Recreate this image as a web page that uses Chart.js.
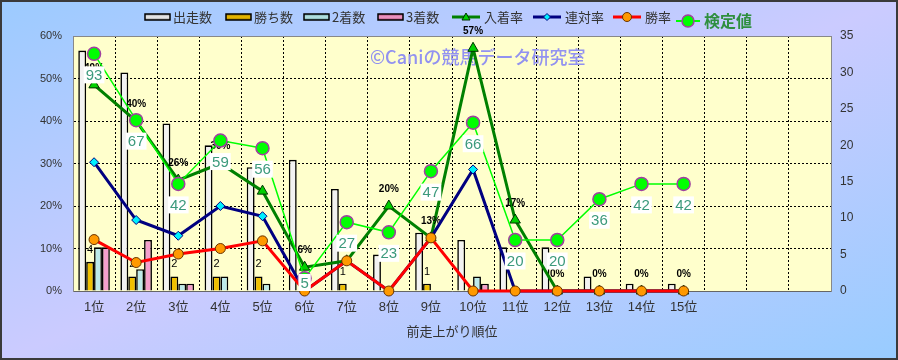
<!DOCTYPE html>
<html><head><meta charset="utf-8">
<script src="https://cdn.jsdelivr.net/npm/chart.js@4.4.1/dist/chart.umd.min.js"></script>
<style>html,body{margin:0;padding:0;background:#fff}#wrap{width:898px;height:360px}</style>
</head><body><div id="wrap"><canvas id="c" width="898" height="360"></canvas></div>
<script>
// ---- data ----
const categories = ['1位','2位','3位','4位','5位','6位','7位','8位','9位','10位','11位','12位','13位','14位','15位','','',''];
const starts   = [33, 30, 23, 20, 17, 18, 14, 5, 8, 7, 6, 6, 2, 1, 1];
const wins     = [4, 2, 2, 2, 2, 0, 1, 0, 1, 0, 0, 0, 0, 0, 0];
const seconds  = [6, 3, 1, 2, 1, 0, 0, 0, 0, 2, 0, 0, 0, 0, 0];
const thirds   = [6, 7, 1, 0, 0, 0, 0, 0, 0, 1, 0, 0, 0, 0, 0];
const placeRate    = [48.5, 40, 26.1, 30, 23.5, 5.6, 7.1, 20, 12.5, 57.1, 16.7, 0, 0, 0, 0];
const quinellaRate = [30.3, 16.7, 13.0, 20, 17.6, 0, 7.1, 0, 12.5, 28.6, 0, 0, 0, 0, 0];
const winRate      = [12.1, 6.7, 8.7, 10, 11.8, 0, 7.1, 0, 12.5, 0, 0, 0, 0, 0, 0];
const testValue    = [93, 67, 42, 59, 56, 5, 27, 23, 47, 66, 20, 20, 36, 42, 42];
const leftTickMax = 60, leftTickStep = 10;
const rightTickMax = 35, rightTickStep = 5;
const watermark = '©Caniの競馬データ研究室';
const xTitle = '前走上がり順位';

const FONT = "'Liberation Sans','Noto Sans CJK JP',sans-serif";
const JFONT = "'Noto Sans CJK JP','Liberation Sans',sans-serif";

const bgPlugin = {
  id: 'bg',
  beforeDraw(chart) {
    const {ctx, width, height, chartArea: a} = chart;
    ctx.save();
    ctx.scale(width, height);
    const g = ctx.createLinearGradient(0, 0, 1, 1);
    g.addColorStop(0, '#9ccbff');
    g.addColorStop(0.5, '#cbcbff');
    g.addColorStop(1, '#98ccff');
    ctx.fillStyle = g;
    ctx.fillRect(0, 0, 1, 1);
    ctx.restore();
    ctx.save();
    ctx.fillStyle = '#ffffcc';
    ctx.fillRect(a.left, a.top, a.right - a.left, a.bottom - a.top);
    ctx.restore();
  },
  beforeDatasetsDraw(chart) {
    const {ctx, chartArea: a} = chart;
    ctx.save();
    ctx.strokeStyle = '#888';
    ctx.lineWidth = 1;
    ctx.beginPath(); ctx.moveTo(a.left, a.top + 0.5); ctx.lineTo(a.right, a.top + 0.5); ctx.stroke();
    ctx.font = '500 18px ' + JFONT;
    ctx.fillStyle = '#9292f0';
    ctx.textBaseline = 'middle';
    ctx.textAlign = 'left';
    ctx.fillText(watermark, 370, 57);
    ctx.restore();
  },
  afterDatasetDraw(chart, args) {
    const {ctx, chartArea: a} = chart;
    const ds = chart.data.datasets[args.index];
    const pts = args.meta.data;
    ctx.save();
    if (ds.label === '入着率') {
      ctx.font = 'bold 10px ' + FONT;
      ctx.fillStyle = '#000';
      ctx.textAlign = 'center'; ctx.textBaseline = 'middle';
      pts.forEach((p, i) => ctx.fillText(Math.round(ds.data[i]) + '%', p.x, p.y - 17));
    } else if (ds.label === '勝ち数') {
      ctx.font = '11px ' + FONT;
      ctx.fillStyle = '#000';
      ctx.textAlign = 'center'; ctx.textBaseline = 'middle';
      pts.forEach((p, i) => { if (ds.data[i] > 0) ctx.fillText(String(ds.data[i]), p.x, p.y - 12); });
    } else if (ds.label === '検定値') {
      ctx.font = '15px ' + FONT;
      ctx.textAlign = 'center'; ctx.textBaseline = 'middle';
      pts.forEach((p, i) => {
        const t = String(ds.data[i]);
        const w = ctx.measureText(t).width + 4, h = 17;
        let cy = Math.min(p.y + 21, a.bottom - h / 2);
        ctx.fillStyle = '#ffffff';
        ctx.fillRect(p.x - w / 2, cy - h / 2, w, h);
        ctx.fillStyle = '#3c9a7c';
        ctx.fillText(t, p.x, cy + 1);
      });
    }
    ctx.restore();
  },
  afterDraw(chart) {
    const {ctx, width, height} = chart;
    const ds = chart.data.datasets;
    ctx.save();
    ctx.textBaseline = 'middle'; ctx.textAlign = 'left';
    const barX = [145, 226, 304, 378];
    for (let i = 0; i < 4; i++) {
      const d = ds[i], x = barX[i], y = 17;
      const g = ctx.createLinearGradient(0, y - 3, 0, y + 3);
      g.addColorStop(0, d.legendEdge); g.addColorStop(0.5, d.backgroundColor); g.addColorStop(1, d.legendEdge);
      ctx.fillStyle = g;
      ctx.fillRect(x, y - 3, 25, 6);
      ctx.strokeStyle = '#000'; ctx.lineWidth = 1.5;
      ctx.strokeRect(x, y - 3, 25, 6);
      ctx.fillStyle = '#333';
      ctx.font = '13px ' + JFONT;
      ctx.fillText(d.label, x + 28, y);
    }
    const lineX = [452, 533, 613, 676];
    for (let i = 4; i < 8; i++) {
      const d = ds[i], x = lineX[i - 4];
      const last = i === 7;
      const y = last ? 21 : 17, len = last ? 24 : 28;
      ctx.strokeStyle = d.borderColor; ctx.lineWidth = last ? 2 : 3;
      ctx.beginPath(); ctx.moveTo(x, y); ctx.lineTo(x + len, y); ctx.stroke();
      const cx = x + len / 2;
      ctx.fillStyle = d.pointBackgroundColor; ctx.strokeStyle = d.pointBorderColor; ctx.lineWidth = 1;
      ctx.beginPath();
      if (d.pointStyle === 'triangle') { ctx.moveTo(cx, y - 4); ctx.lineTo(cx + 4, y + 3); ctx.lineTo(cx - 4, y + 3); ctx.closePath(); }
      else if (d.pointStyle === 'rectRot') { ctx.moveTo(cx, y - 3.5); ctx.lineTo(cx + 3.5, y); ctx.lineTo(cx, y + 3.5); ctx.lineTo(cx - 3.5, y); ctx.closePath(); }
      else { ctx.arc(cx, y, last ? 6 : 4.5, 0, Math.PI * 2); }
      ctx.fill(); ctx.lineWidth = last ? 1.5 : 1; ctx.stroke();
      if (last) { ctx.font = 'bold 16px ' + JFONT; ctx.fillStyle = '#2f8f3f'; }
      else { ctx.font = '13px ' + JFONT; ctx.fillStyle = '#333'; }
      ctx.fillText(d.label, x + len + 4, y);
    }
    ctx.strokeStyle = '#3a3a3a'; ctx.lineWidth = 2;
    ctx.strokeRect(1, 1, width - 2, height - 2);
    ctx.restore();
  }
};

const barDs = (label, data, color, edge, order) => ({
  type: 'bar', label, data, backgroundColor: color, legendEdge: edge,
  borderColor: '#000', borderWidth: 1.6, yAxisID: 'y1', order,
  barPercentage: 1, categoryPercentage: 0.75
});

new Chart(document.getElementById('c'), {
  data: {
    labels: categories,
    datasets: [
      barDs('出走数', starts, '#f2f2f2', '#9a9a9a', 5),
      barDs('勝ち数', wins, '#f0c000', '#a07800', 6),
      barDs('2着数', seconds, '#bdeaea', '#6fa0a0', 7),
      barDs('3着数', thirds, '#f4a0cc', '#b0507a', 8),
      { type: 'line', label: '入着率', data: placeRate, yAxisID: 'y', order: 4, clip: false,
        borderColor: '#008000', borderWidth: 3, pointStyle: 'triangle', pointRadius: 6,
        pointBackgroundColor: '#00d000', pointBorderColor: '#003300', pointBorderWidth: 1 },
      { type: 'line', label: '連対率', data: quinellaRate, yAxisID: 'y', order: 3, clip: false,
        borderColor: '#000080', borderWidth: 3, pointStyle: 'rectRot', pointRadius: 4.5,
        pointBackgroundColor: '#00f0ff', pointBorderColor: '#000080', pointBorderWidth: 1 },
      { type: 'line', label: '勝率', data: winRate, yAxisID: 'y', order: 2, clip: false,
        borderColor: '#ff0000', borderWidth: 3, pointStyle: 'circle', pointRadius: 5,
        pointBackgroundColor: '#ff9900', pointBorderColor: '#6a3300', pointBorderWidth: 1 },
      { type: 'line', label: '検定値', data: testValue, yAxisID: 'y2', order: 1, clip: false,
        borderColor: '#00ff00', borderWidth: 1.5, pointStyle: 'circle', pointRadius: 6.5,
        pointBackgroundColor: '#00ff00', pointBorderColor: '#a040a0', pointBorderWidth: 1.5 }
    ]
  },
  options: {
    responsive: false, animation: false, devicePixelRatio: 1,
    layout: { padding: { top: 36, left: 0, right: 0, bottom: 0 } },
    plugins: { legend: { display: false }, tooltip: { enabled: false } },
    scales: {
      x: {
        type: 'category', offset: true,
        grid: { color: '#000', lineWidth: 1, offset: true, drawTicks: false },
        border: { display: true, color: '#666', dash: [2, 2] },
        ticks: { font: { size: 13, family: FONT }, color: '#333', padding: 9, autoSkip: false, maxRotation: 0 },
        title: { display: true, text: xTitle, font: { size: 13, family: JFONT }, color: '#333', padding: { top: 0, bottom: 21 } },
        afterFit: s => { s.height = 69; }
      },
      y: {
        position: 'left', min: 0, max: leftTickMax,
        grid: { color: '#000', lineWidth: 1, drawTicks: false },
        border: { display: true, color: '#888', dash: [2, 2] },
        ticks: { stepSize: leftTickStep, callback: v => v + '%', font: { size: 11, family: FONT }, color: '#333', padding: 11 },
        afterFit: s => { s.width = 73; }
      },
      y1: {
        position: 'right', min: 0, max: rightTickMax,
        grid: { drawOnChartArea: false, drawTicks: false },
        border: { display: true, color: '#888' },
        ticks: { stepSize: rightTickStep, font: { size: 12, family: FONT }, color: '#333', padding: 9 },
        afterFit: s => { s.width = 67; }
      },
      y2: { display: false, min: 0, max: 100 }
    }
  },
  plugins: [bgPlugin]
});
</script>
</body></html>
